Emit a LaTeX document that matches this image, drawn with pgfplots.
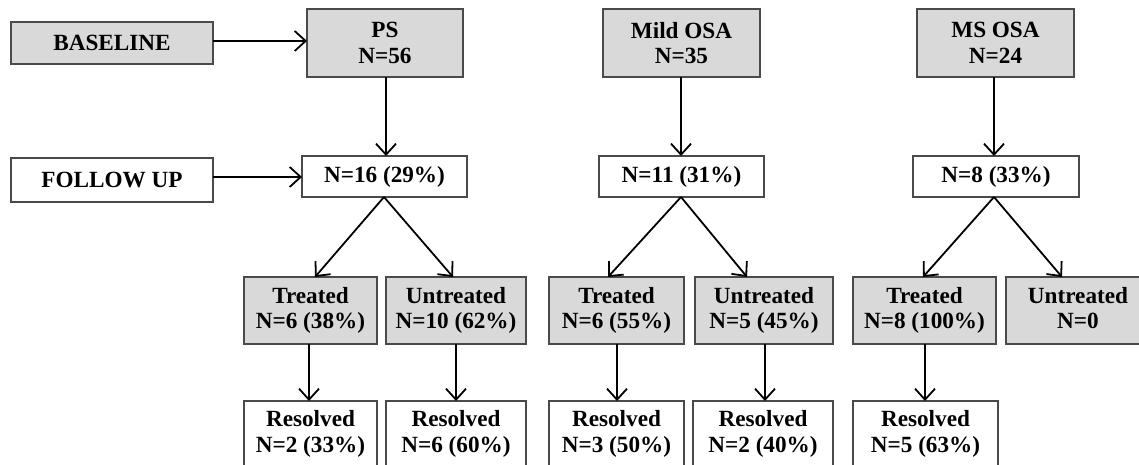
\documentclass[border=0pt]{standalone}
\usepackage{fontspec}
\setmainfont{Liberation Serif}
\usepackage{pgfplots}
\pgfplotsset{compat=1.18}
\usetikzlibrary{arrows.meta}
\definecolor{boxgray}{HTML}{D9D9D9}
\definecolor{edge}{HTML}{4A4A4A}
\newcommand{\gbox}[4]{\addplot[draw=edge,line width=1pt,fill=boxgray,mark=none] coordinates {(#1,#2)(#3,#2)(#3,#4)(#1,#4)} --cycle;}
\newcommand{\wbox}[4]{\addplot[draw=edge,line width=1pt,fill=white,mark=none] coordinates {(#1,#2)(#3,#2)(#3,#4)(#1,#4)} --cycle;}
\newcommand{\arr}[4]{\addplot[black,line width=0.9pt,mark=none,-{Straight Barb[length=5.5pt,width=10pt,line width=0.9pt]}] coordinates {(#1,#2)(#3,#4)};}
\newcommand{\txt}[3]{\node[font=\fontsize{11.6}{12.8}\selectfont\bfseries,align=center,inner sep=0pt] at (axis cs:#1,#2) {#3};}
\begin{document}
\begin{tikzpicture}
\begin{axis}[width=569.5pt,height=232.5pt,scale only axis,
  xmin=0,xmax=1139,ymin=0,ymax=465,y dir=reverse,hide axis,clip=true]
% gray boxes
\gbox{11}{22}{213}{64}
\gbox{307}{9}{463}{77}
\gbox{603}{9}{760}{77}
\gbox{917}{9}{1074}{77}
\gbox{244}{277}{377}{344}
\gbox{386}{277}{526}{344}
\gbox{549}{277}{684}{344}
\gbox{695}{277}{833}{344}
\gbox{853}{277}{996}{344}
\gbox{1006}{277}{1150}{344}
% white boxes
\wbox{11}{158}{213}{202}
\wbox{302}{156}{467}{197}
\wbox{599}{156}{764}{197}
\wbox{913}{156}{1079}{197}
\wbox{244}{401}{377}{490}
\wbox{386}{401}{526}{490}
\wbox{549}{401}{684}{490}
\wbox{693}{401}{833}{490}
\wbox{853}{401}{998}{490}
% arrows
\arr{213}{41}{307}{41}
\arr{213}{177}{302}{177}
\arr{386}{77}{386}{156}
\arr{681}{77}{681}{156}
\arr{994}{77}{994}{156}
\arr{384}{197}{315}{277}
\arr{384}{197}{453}{277}
\arr{681}{197}{608}{277}
\arr{681}{197}{747}{277}
\arr{994}{197}{923}{277}
\arr{994}{197}{1062}{277}
\arr{309}{344}{309}{401}
\arr{456}{344}{456}{401}
\arr{617}{344}{617}{401}
\arr{765}{344}{765}{401}
\arr{925}{344}{925}{401}
% texts
\txt{112}{43}{BASELINE}
\txt{112}{180}{FOLLOW UP}
\txt{385}{43}{PS\\N=56}
\txt{681.5}{43}{Mild OSA\\N=35}
\txt{995.5}{43}{MS OSA\\N=24}
\txt{384.5}{176.5}{N=16 (29\%)}
\txt{681.5}{176.5}{N=11 (31\%)}
\txt{996}{176.5}{N=8 (33\%)}
\txt{310.5}{310.5}{Treated\\N=6 (38\%)}
\txt{456}{310.5}{Untreated\\N=10 (62\%)}
\txt{616.5}{310.5}{Treated\\N=6 (55\%)}
\txt{764}{310.5}{Untreated\\N=5 (45\%)}
\txt{924.5}{310.5}{Treated\\N=8 (100\%)}
\txt{1078}{310.5}{Untreated\\N=0\vphantom{()}}
\txt{310.5}{434}{Resolved\\N=2 (33\%)}
\txt{456}{434}{Resolved\\N=6 (60\%)}
\txt{616.5}{434}{Resolved\\N=3 (50\%)}
\txt{763}{434}{Resolved\\N=2 (40\%)}
\txt{925.5}{434}{Resolved\\N=5 (63\%)}
\end{axis}
\pgfresetboundingbox
\path (current axis.south west) rectangle (current axis.north east);
\end{tikzpicture}
\end{document}
